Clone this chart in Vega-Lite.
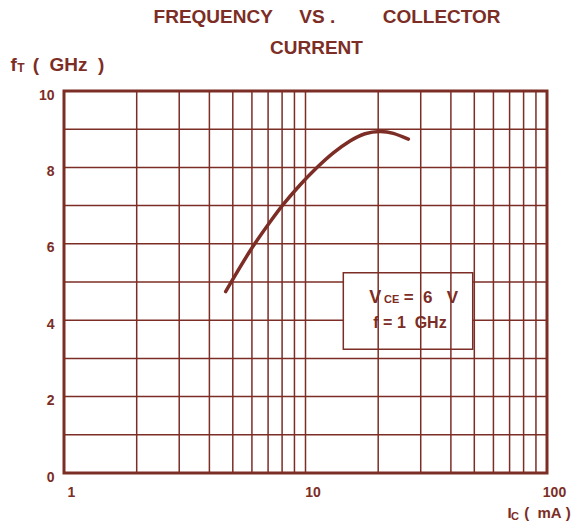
{
  "$schema": "https://vega.github.io/schema/vega-lite/v6.json",
  "width": 483,
  "height": 382,
  "autosize": {"type": "none"},
  "padding": {"left": 64, "top": 91, "right": 27, "bottom": 54},
  "background": "white",
  "title": {
    "text": ["\u200b\u00a0\u00a0\u00a0\u00a0FREQUENCY\u00a0\u00a0\u00a0\u00a0\u00a0VS\u00a0.\u00a0\u00a0\u00a0\u00a0\u00a0\u00a0\u00a0\u00a0\u00a0COLLECTOR", "CURRENT"],
    "anchor": "middle",
    "dx": 11,
    "offset": -3,
    "lineHeight": 31,
    "font": "Liberation Sans",
    "fontSize": 19,
    "fontWeight": "bold",
    "color": "#7c2d25"
  },
  "datasets": {
    "curve": [
      {"ic": 4.67, "ft": 4.75},
      {"ic": 5.89, "ft": 5.81},
      {"ic": 7.13, "ft": 6.57},
      {"ic": 8.09, "ft": 7.03},
      {"ic": 9.49, "ft": 7.54},
      {"ic": 11.13, "ft": 7.99},
      {"ic": 13.04, "ft": 8.38},
      {"ic": 15.29, "ft": 8.69},
      {"ic": 17.64, "ft": 8.88},
      {"ic": 20.35, "ft": 8.94},
      {"ic": 23.1, "ft": 8.89},
      {"ic": 26.66, "ft": 8.74}
    ],
    "vgrid": [
      {"ic": 2}, {"ic": 3}, {"ic": 4}, {"ic": 5}, {"ic": 6}, {"ic": 7}, {"ic": 8}, {"ic": 9}, {"ic": 10},
      {"ic": 20}, {"ic": 30}, {"ic": 40}, {"ic": 50}, {"ic": 60}, {"ic": 70}, {"ic": 80}, {"ic": 90}
    ],
    "hgrid": [
      {"ft": 1}, {"ft": 2}, {"ft": 3}, {"ft": 4}, {"ft": 5}, {"ft": 6}, {"ft": 7}, {"ft": 8}, {"ft": 9}
    ],
    "one": [{"k": 1}]
  },
  "layer": [
    {
      "data": {"name": "hgrid"},
      "mark": {"type": "rule", "color": "#7c2d25", "strokeWidth": 1.5},
      "encoding": {
        "y": {"field": "ft", "type": "quantitative", "scale": {"domain": [0, 10], "nice": false}}
      }
    },
    {
      "data": {"name": "one"},
      "mark": {"type": "rect", "fill": "white", "strokeWidth": 0},
      "encoding": {
        "x": {"datum": 14.34, "type": "quantitative", "scale": {"type": "log", "domain": [1, 100], "nice": false}},
        "x2": {"datum": 49.25},
        "y": {"datum": 3.24, "type": "quantitative"},
        "y2": {"datum": 5.24}
      }
    },
    {
      "data": {"name": "vgrid"},
      "mark": {"type": "rule", "color": "#7c2d25", "strokeWidth": 1.5},
      "encoding": {
        "x": {"field": "ic", "type": "quantitative"}
      }
    },
    {
      "data": {"name": "one"},
      "mark": {"type": "rect", "fillOpacity": 0, "stroke": "#7c2d25", "strokeWidth": 1.5},
      "encoding": {
        "x": {"datum": 14.34, "type": "quantitative"},
        "x2": {"datum": 49.25},
        "y": {"datum": 3.24, "type": "quantitative"},
        "y2": {"datum": 5.24}
      }
    },
    {
      "data": {"name": "curve"},
      "mark": {"type": "line", "color": "#7c2d25", "strokeWidth": 3.5, "interpolate": "natural", "strokeCap": "round"},
      "encoding": {
        "x": {
          "field": "ic", "type": "quantitative",
          "scale": {"type": "log", "domain": [1, 100], "nice": false},
          "axis": {
            "values": [1, 10, 100], "format": "d", "grid": false, "ticks": false, "domain": false,
            "labelFlush": false, "labelAlign": "center", "labelOffset": 7, "labelPadding": 12, "labelBaseline": "top",
            "title": "I\u00a0\u00a0\u00a0(\u00a0\u00a0mA\u00a0)", "titleX": 443, "titleY": 44, "titleAlign": "left", "titleBaseline": "alphabetic",
            "titleFontSize": 15
          }
        },
        "y": {
          "field": "ft", "type": "quantitative",
          "scale": {"domain": [0, 10], "nice": false},
          "axis": {
            "values": [0, 2, 4, 6, 8, 10], "grid": false, "ticks": false, "domain": false,
            "labelPadding": 10, "labelOffset": 4,
            "title": "f\u00a0\u00a0\u00a0(\u00a0\u00a0GHz\u00a0\u00a0)", "titleAngle": 0, "titleX": -54, "titleY": -21,
            "titleAlign": "left", "titleBaseline": "alphabetic", "titleFontSize": 19
          }
        }
      }
    },
    {
      "data": {"name": "one"},
      "mark": {"type": "text", "text": "V", "align": "left", "baseline": "alphabetic", "fontSize": 18, "fontWeight": "bold", "font": "Liberation Sans", "color": "#7c2d25"},
      "encoding": {"x": {"datum": 18.37, "type": "quantitative"}, "y": {"datum": 4.46, "type": "quantitative"}}
    },
    {
      "data": {"name": "one"},
      "mark": {"type": "text", "text": "CE", "align": "left", "baseline": "alphabetic", "fontSize": 11, "fontWeight": "bold", "font": "Liberation Sans", "color": "#7c2d25"},
      "encoding": {"x": {"datum": 21.14, "type": "quantitative"}, "y": {"datum": 4.46, "type": "quantitative"}}
    },
    {
      "data": {"name": "one"},
      "mark": {"type": "text", "text": "=\u00a0\u00a06\u00a0\u00a0\u00a0V", "align": "left", "baseline": "alphabetic", "fontSize": 17, "fontWeight": "bold", "font": "Liberation Sans", "color": "#7c2d25"},
      "encoding": {"x": {"datum": 25.5, "type": "quantitative"}, "y": {"datum": 4.46, "type": "quantitative"}}
    },
    {
      "data": {"name": "one"},
      "mark": {"type": "text", "text": "f\u00a0=\u00a01\u00a0\u00a0GHz", "align": "left", "baseline": "alphabetic", "fontSize": 16, "fontWeight": "bold", "font": "Liberation Sans", "color": "#7c2d25"},
      "encoding": {"x": {"datum": 19.09, "type": "quantitative"}, "y": {"datum": 3.8, "type": "quantitative"}}
    },
    {
      "data": {"name": "one"},
      "mark": {"type": "text", "text": "T", "align": "left", "baseline": "alphabetic", "fontSize": 12, "fontWeight": "bold", "font": "Liberation Sans", "color": "#7c2d25"},
      "encoding": {"x": {"datum": 0.64, "type": "quantitative"}, "y": {"datum": 10.5, "type": "quantitative"}}
    },
    {
      "data": {"name": "one"},
      "mark": {"type": "text", "text": "C", "align": "left", "baseline": "alphabetic", "fontSize": 11, "fontWeight": "bold", "font": "Liberation Sans", "color": "#7c2d25"},
      "encoding": {"x": {"datum": 70.9, "type": "quantitative"}, "y": {"datum": -1.23, "type": "quantitative"}}
    }
  ],
  "config": {
    "view": {"stroke": "#7c2d25", "strokeWidth": 3},
    "axis": {
      "grid": false, "ticks": false, "domain": false,
      "labelFont": "Liberation Sans", "labelFontSize": 14, "labelFontWeight": "bold", "labelColor": "#7c2d25",
      "titleFont": "Liberation Sans", "titleFontWeight": "bold", "titleColor": "#7c2d25"
    }
  }
}
